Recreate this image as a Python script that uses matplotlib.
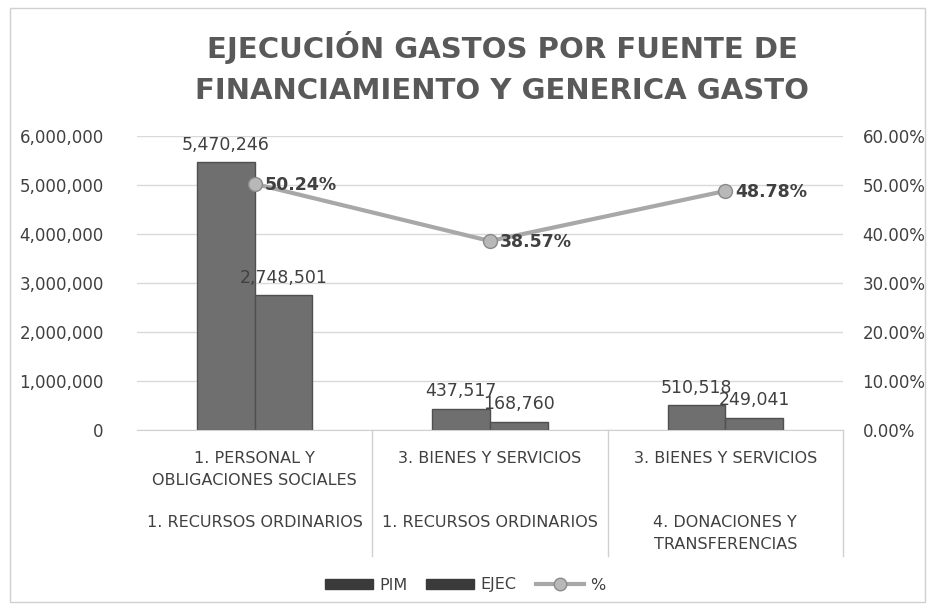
import matplotlib.pyplot as plt
from matplotlib.patches import Patch, Rectangle
from matplotlib.lines import Line2D
from matplotlib.ticker import FuncFormatter

plt.rcParams['font.family'] = ['DejaVu Sans']

genericas = ["1. PERSONAL Y\nOBLIGACIONES SOCIALES", "3. BIENES Y SERVICIOS", "3. BIENES Y SERVICIOS"]
fuentes = ["1. RECURSOS ORDINARIOS", "1. RECURSOS ORDINARIOS", "4. DONACIONES Y\nTRANSFERENCIAS"]
pim = [5470246, 437517, 510518]
ejec = [2748501, 168760, 249041]
pct = [50.24, 38.57, 48.78]

W, H = 934, 610
fig = plt.figure(figsize=(W / 100, H / 100), dpi=100)
fig.patches.append(Rectangle((10 / W, 8 / H), 915 / W, 594 / H, transform=fig.transFigure,
                             fill=False, edgecolor="#d0d0d0", linewidth=1))

ax = fig.add_axes([137 / W, 1 - 430 / H, 706 / W, 294 / H])
ax2 = ax.twinx()

x = list(range(len(pim)))
bw = 0.245
bar_color = "#6f6f6f"
b1 = ax.bar([i - bw / 2 for i in x], pim, bw, color=bar_color, edgecolor="#505050", linewidth=1, zorder=2)
b2 = ax.bar([i + bw / 2 for i in x], ejec, bw, color=bar_color, edgecolor="#505050", linewidth=1, zorder=2)
for bars, vals in ((b1, pim), (b2, ejec)):
    for r, v in zip(bars, vals):
        ax.annotate(f"{v:,}", (r.get_x() + r.get_width() / 2, v), xytext=(0, 6),
                    textcoords="offset points", ha="center", va="bottom", fontsize=12.5, color="#404040")

ax.set_xlim(-0.5, 2.5)
ax.set_ylim(0, 6000000)
ax.set_yticks(range(0, 6000001, 1000000))
ax.yaxis.set_major_formatter(FuncFormatter(lambda v, p: f"{int(v):,}"))
ax.tick_params(axis="y", length=0, labelsize=12, labelcolor="#404040", pad=24)
ax.set_xticks([])
ax.grid(axis="y", color="#d9d9d9", linewidth=1, zorder=0)
ax.set_axisbelow(True)
for s in ("left", "right", "top"):
    ax.spines[s].set_visible(False)
ax.spines["bottom"].set_color("#d0d0d0")

ax2.plot(x, pct, color="#a8a8a8", linewidth=3, marker="o", markersize=10,
         markerfacecolor="#b8b8b8", markeredgecolor="#8a8a8a", zorder=3)
for i, p in zip(x, pct):
    ax2.annotate(f"{p:.2f}%", (i, p), xytext=(7, -1), textcoords="offset points",
                 ha="left", va="center", fontsize=12.5, fontweight="bold", color="#404040")
ax2.set_ylim(0, 60)
ax2.set_yticks(range(0, 61, 10))
ax2.yaxis.set_major_formatter(FuncFormatter(lambda v, p: f"{v:.2f}%"))
ax2.tick_params(axis="y", length=0, labelsize=12, labelcolor="#404040", pad=14)
for s in ax2.spines.values():
    s.set_visible(False)

# multi-level category axis
tr = ax.get_xaxis_transform()
for i in x:
    ax.text(i, -0.07, genericas[i], transform=tr, ha="center", va="top", fontsize=11.5,
            color="#404040", linespacing=1.6)
    ax.text(i, -0.29, fuentes[i], transform=tr, ha="center", va="top", fontsize=11.5,
            color="#404040", linespacing=1.6)
for xd in (0.5, 1.5, 2.5):
    ax.plot([xd, xd], [0, -0.43], transform=tr, color="#d0d0d0", linewidth=1, clip_on=False)

fig.text(502 / W, 1 - 68 / H, "EJECUCIÓN GASTOS POR FUENTE DE\nFINANCIAMIENTO Y GENERICA GASTO",
         ha="center", va="center", fontsize=21, fontweight="bold", color="#595959", linespacing=1.55)

handles = [Patch(color="#3a3a3a", label="PIM"), Patch(color="#3a3a3a", label="EJEC"),
           Line2D([], [], color="#a8a8a8", linewidth=3, marker="o", markersize=9,
                  markerfacecolor="#b8b8b8", markeredgecolor="#8a8a8a", label="%")]
fig.legend(handles=handles, loc="center", bbox_to_anchor=(465 / W, 1 - 585 / H), ncol=3,
           frameon=False, fontsize=11.5, handlelength=3, handleheight=0.6, columnspacing=1.2,
           handletextpad=0.4, labelcolor="#404040")

fig.savefig("out.png", dpi=100)
